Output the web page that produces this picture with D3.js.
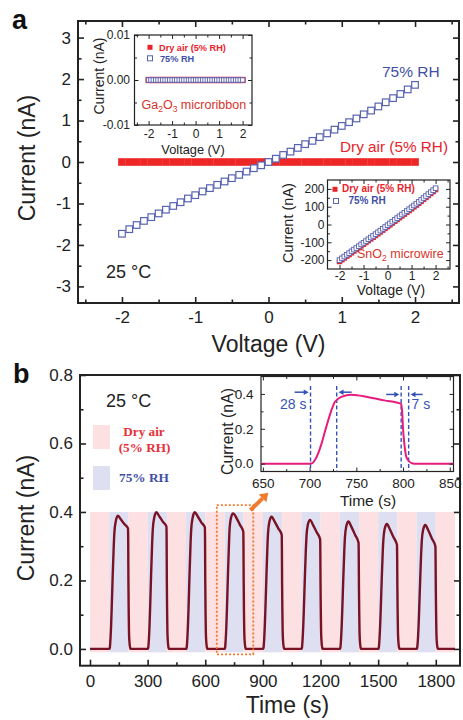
<!DOCTYPE html>
<html>
<head>
<meta charset="utf-8">
<script src="https://cdn.jsdelivr.net/npm/d3@7"></script>
<style>
  body { margin: 0; background: #fff; }
  svg { display: block; }
</style>
</head>
<body>
<svg id="fig" width="463" height="720"></svg>
<script>
// ---------- data ----------
// (a) I-V curves of the Ga2O3 microribbon device
const ivVoltage = [-2.0,-1.9,-1.8,-1.7,-1.6,-1.5,-1.4,-1.3,-1.2,-1.1,-1.0,-0.9,-0.8,-0.7,-0.6,-0.5,-0.4,-0.3,-0.2,-0.1,0.0,
                   0.1,0.2,0.3,0.4,0.5,0.6,0.7,0.8,0.9,1.0,1.1,1.2,1.3,1.4,1.5,1.6,1.7,1.8,1.9,2.0];
const ivHumid = [-1.73,-1.62,-1.52,-1.42,-1.33,-1.24,-1.15,-1.06,-0.97,-0.88,-0.80,-0.71,-0.63,-0.55,-0.47,-0.39,-0.31,-0.23,-0.15,-0.08,0.00,
                 0.08,0.17,0.25,0.34,0.43,0.51,0.60,0.69,0.78,0.87,0.96,1.05,1.15,1.24,1.34,1.44,1.54,1.64,1.75,1.86];
const ivDry = [0,0,0,0,0,0,0,0,0,0,0,0,0,0,0,0,0,0,0,0,0,
               0,0,0,0,0,0,0,0,0,0,0,0,0,0,0,0,0,0,0,0];
// inset: Ga2O3 microribbon without gold nanoparticles
const gaDry = [0,0,0,0,0,0,0,0,0,0,0,0,0,0,0,0,0,0,0,0,0,
               0,0,0,0,0,0,0,0,0,0,0,0,0,0,0,0,0,0,0,0];
const gaHumid = [0,0,0,0,0,0,0,0,0,0,0,0,0,0,0,0,0,0,0,0,0,
                 0,0,0,0,0,0,0,0,0,0,0,0,0,0,0,0,0,0,0,0];
// inset: SnO2 microwire
const snHumid = [-200,-190,-180,-170,-161,-151,-141,-132,-122,-112,-103,-93,-83,-73,-64,-54,-44,-34,-24,-14,-4,
                 6,16,26,36,46,56,66,76,86,96,107,117,127,138,149,160,171,182,193,204];
const snDry = [-208,-198,-188,-178,-169,-159,-149,-140,-130,-120,-111,-101,-91,-81,-72,-62,-52,-42,-32,-22,-12,
               -2,8,18,28,38,48,58,68,78,88,99,109,119,130,141,152,163,174,185,196];

// (b) current response while switching dry air / 75% RH every 100 s
const bandStart = [0,100,200,300,400,500,600,700,800,900,1000,1100,1200,1300,1400,1500,1600,1700,1800];
const bandGas = ["dry","humid","dry","humid","dry","humid","dry","humid","dry","humid",
                 "dry","humid","dry","humid","dry","humid","dry","humid","dry"];
const responseTime = [
  0,100,103,106,110,113,118,123.6,127,134,145,162,180,198,199,200,201.7,203,205,209,212,
  300,303,306,310,313,318,323.6,327,334,345,362,380,398,399,400,401.7,403,405,409,412,
  500,503,506,510,513,518,523.6,527,534,545,562,580,598,599,600,601.7,603,605,609,612,
  700,703,706,710,713,718,723.6,727,734,745,762,780,798,799,800,801.7,803,805,809,812,
  900,903,906,910,913,918,923.6,927,934,945,962,980,998,999,1000,1001.7,1003,1005,1009,1012,
  1100,1103,1106,1110,1113,1118,1123.6,1127,1134,1145,1162,1180,1198,1199,1200,1201.7,1203,1205,1209,1212,
  1300,1303,1306,1310,1313,1318,1323.6,1327,1334,1345,1362,1380,1398,1399,1400,1401.7,1403,1405,1409,1412,
  1500,1503,1506,1510,1513,1518,1523.6,1527,1534,1545,1562,1580,1598,1599,1600,1601.7,1603,1605,1609,1612,
  1700,1703,1706,1710,1713,1718,1723.6,1727,1734,1745,1762,1780,1798,1799,1800,1801.7,1803,1805,1809,1812,
  1900];
const responseCurrent = [
  0,0,0.003,0.023,0.07,0.119,0.21,0.30,0.34,0.372,0.389,0.377,0.364,0.352,0.31,0.2,0.1,0.05,0.023,0.003,0,
  0,0.003,0.023,0.07,0.119,0.215,0.31,0.35,0.382,0.399,0.386,0.371,0.357,0.315,0.2,0.1,0.05,0.023,0.003,0,
  0,0.003,0.023,0.07,0.119,0.215,0.31,0.35,0.382,0.399,0.386,0.369,0.355,0.313,0.2,0.1,0.05,0.023,0.003,0,
  0,0.003,0.023,0.07,0.119,0.214,0.31,0.354,0.383,0.396,0.383,0.363,0.343,0.30,0.2,0.1,0.05,0.023,0.003,0,
  0,0.003,0.022,0.068,0.115,0.205,0.30,0.34,0.372,0.386,0.371,0.352,0.333,0.29,0.19,0.1,0.05,0.023,0.003,0,
  0,0.003,0.022,0.066,0.112,0.20,0.29,0.33,0.363,0.377,0.361,0.341,0.320,0.28,0.19,0.1,0.05,0.023,0.003,0,
  0,0.003,0.021,0.065,0.11,0.197,0.285,0.325,0.358,0.372,0.355,0.333,0.310,0.27,0.18,0.1,0.05,0.023,0.003,0,
  0,0.003,0.021,0.064,0.108,0.193,0.28,0.318,0.351,0.365,0.348,0.326,0.304,0.265,0.18,0.1,0.05,0.023,0.003,0,
  0,0.003,0.021,0.063,0.107,0.19,0.277,0.315,0.348,0.362,0.345,0.322,0.299,0.26,0.18,0.1,0.05,0.023,0.003,0,
  0];
// response / recovery markers in the zoomed cycle
const markerTimes = [701, 729, 798, 806];
const responseLabels = ["28 s", "7 s"];

// tick values and labels
const aXTicks = [-2,-1,0,1,2], aXLabels = ["-2","-1","0","1","2"];
const aYTicks = [-3,-2,-1,0,1,2,3], aYLabels = ["-3","-2","-1","0","1","2","3"];
const gaYTicks = [-0.01,0,0.01], gaYLabels = ["-0.01","0.00","0.01"];
const snYTicks = [-200,-100,0,100,200], snYLabels = ["-200","-100","0","100","200"];
const bXTicks = [0,300,600,900,1200,1500,1800], bXLabels = ["0","300","600","900","1200","1500","1800"];
const bYTicks = [0,0.2,0.4,0.6,0.8], bYLabels = ["0.0","0.2","0.4","0.6","0.8"];
const zXTicks = [650,700,750,800,850], zXLabels = ["650","700","750","800","850"];
const zYTicks = [0,0.2,0.4], zYLabels = ["0.0","0.2","0.4"];

// ---------- drawing ----------
const SANS = "'Liberation Sans', Arial, sans-serif";
const SERIF = "'Liberation Serif', 'Times New Roman', serif";
const RED = "#e8232b", BLUE = "#3f4fa6", MARK = "#5863b2";
const svg = d3.select("#fig").attr("font-family", SANS);

function drawFrame(g, x, y, o) {
  const [x0, x1] = x.range(), [y0, y1] = y.range();
  g.append("rect").attr("x", x0).attr("y", y1).attr("width", x1 - x0).attr("height", y0 - y1)
    .attr("fill", o.fill || "none").attr("stroke", "#222").attr("stroke-width", o.frameW);
}

function drawAxes(g, x, y, o) {
  const [x0, x1] = x.range(), [y0, y1] = y.range();
  const style = sel => {
    sel.select(".domain").remove();
    sel.selectAll(".tick line").attr("stroke", "#222").attr("stroke-width", o.tickW);
    sel.selectAll("text").attr("font-family", SANS).attr("font-size", o.fs).attr("fill", "#222");
  };
  const sides = [
    [d3.axisBottom(x), y0, "x", true], [d3.axisLeft(y), x0, "y", true],
    [d3.axisRight(y), x1, "y", false]
  ];
  if (o.top) sides.push([d3.axisTop(x), y1, "x", false]);
  sides.forEach(([ax, pos, dim, labelled]) => {
    const tr = dim === "x" ? `translate(0,${pos})` : `translate(${pos},0)`;
    const minor = dim === "x" ? o.xMinor : o.yMinor;
    g.append("g").attr("transform", tr)
      .call(ax.scale(dim === "x" ? x : y).tickValues(minor).tickSize(-o.minor).tickFormat(""))
      .call(style);
    const major = dim === "x" ? o.xMajor : o.yMajor;
    const labels = dim === "x" ? o.xLabels : o.yLabels;
    const a = (dim === "x" ? (pos === y0 ? d3.axisBottom(x) : d3.axisTop(x))
                           : (pos === x0 ? d3.axisLeft(y) : d3.axisRight(y)))
      .tickValues(major).tickSize(-o.major)
      .tickPadding(dim === "x" ? o.xPad : o.yPad)
      .tickFormat(labelled ? ((d, i) => labels[i]) : "");
    g.append("g").attr("transform", tr).call(a).call(style);
  });
}

function rotLabel(g, text, x, y, fs) {
  g.append("text").attr("transform", `translate(${x},${y}) rotate(-90)`)
    .attr("text-anchor", "middle").attr("font-size", fs).attr("fill", "#222").text(text);
}

function squares(g, xs, ys, x, y, size, fill, stroke, sw) {
  g.selectAll(null).data(xs.map((v, i) => [v, ys[i]])).join("rect")
    .attr("x", d => x(d[0]) - size / 2).attr("y", d => y(d[1]) - size / 2)
    .attr("width", size).attr("height", size)
    .attr("fill", fill).attr("stroke", stroke).attr("stroke-width", sw);
}

// ===== panel a =====
const ga = svg.append("g");
const ax = d3.scaleLinear().domain([-2.6, 2.6]).range([78, 459]);
const ay = d3.scaleLinear().domain([-3.4, 3.4]).range([303, 21]);
drawFrame(ga, ax, ay, { frameW: 2 });
drawAxes(ga, ax, ay, {
  xMajor: aXTicks, xLabels: aXLabels, xMinor: [-2.5,-1.5,-0.5,0.5,1.5,2.5],
  yMajor: aYTicks, yLabels: aYLabels, yMinor: [-2.5,-1.5,-0.5,0.5,1.5,2.5],
  major: 6, minor: 3.5, tickW: 1.6, fs: 17, xPad: 8, yPad: 7, top: true
});
squares(ga, ivVoltage, ivDry, ax, ay, 7.6, "#ee2626", "none", 0);
squares(ga, ivVoltage, ivHumid, ax, ay, 6.6, "#fff", MARK, 1.2);
ga.append("text").attr("x", 382).attr("y", 77).attr("font-size", 15.5).attr("fill", BLUE).text("75% RH");
ga.append("text").attr("x", 448).attr("y", 152).attr("text-anchor", "end").attr("font-size", 15.3).attr("fill", RED).text("Dry air (5% RH)");
ga.append("text").attr("x", 106).attr("y", 278).attr("font-size", 18).attr("fill", "#222").text("25 °C");
ga.append("text").attr("x", 268.5).attr("y", 352).attr("text-anchor", "middle").attr("font-size", 23).attr("fill", "#222").text("Voltage (V)");
rotLabel(ga, "Current (nA)", 35, 158, 23);
ga.append("text").attr("x", 12).attr("y", 29).attr("font-size", 27).attr("font-weight", "bold").attr("fill", "#111").text("a");

// inset: Ga2O3 microribbon
const g1 = svg.append("g");
const gx = d3.scaleLinear().domain([-2.6, 2.4]).range([134.5, 252]);
const gy = d3.scaleLinear().domain([-0.01, 0.01]).range([125, 35]);
drawFrame(g1, gx, gy, { frameW: 1.2, fill: "#fff" });
drawAxes(g1, gx, gy, {
  xMajor: aXTicks, xLabels: aXLabels, xMinor: [-2.5,-1.5,-0.5,0.5,1.5],
  yMajor: gaYTicks, yLabels: gaYLabels, yMinor: [-0.005, 0.005],
  major: 4, minor: 2.5, tickW: 1, fs: 12, xPad: 4.5, yPad: 4.5, top: true
});
squares(g1, ivVoltage, gaDry, gx, gy, 6.2, RED, "none", 0);
squares(g1, ivVoltage, gaHumid, gx, gy, 4.4, "#fff", MARK, 0.9);
g1.append("rect").attr("x", 147.5).attr("y", 44.8).attr("width", 5).attr("height", 5).attr("fill", RED);
g1.append("rect").attr("x", 147.5).attr("y", 55.8).attr("width", 5).attr("height", 5).attr("fill", "#fff").attr("stroke", MARK).attr("stroke-width", 1);
g1.append("text").attr("x", 159).attr("y", 50.5).attr("font-size", 9.2).attr("font-weight", "bold").attr("fill", RED).text("Dry air (5% RH)");
g1.append("text").attr("x", 160).attr("y", 61.5).attr("font-size", 9.2).attr("font-weight", "bold").attr("fill", BLUE).text("75% RH");
const gaName = g1.append("text").attr("x", 141.5).attr("y", 108.5).attr("font-size", 12.5).attr("fill", "#d8342c");
gaName.append("tspan").text("Ga");
gaName.append("tspan").attr("font-size", 8.5).attr("dy", 3).text("2");
gaName.append("tspan").attr("dy", -3).text("O");
gaName.append("tspan").attr("font-size", 8.5).attr("dy", 3).text("3");
gaName.append("tspan").attr("dy", -3).text(" microribbon");
g1.append("text").attr("x", 193).attr("y", 154).attr("text-anchor", "middle").attr("font-size", 12.8).attr("fill", "#222").text("Voltage (V)");
rotLabel(g1, "Current (nA)", 104, 76, 14);

// inset: SnO2 microwire
const g2 = svg.append("g");
const sx = d3.scaleLinear().domain([-2.5, 2.6]).range([327.5, 450]);
const sy = d3.scaleLinear().domain([-250, 250]).range([269, 180]);
drawFrame(g2, sx, sy, { frameW: 1.2, fill: "#fff" });
drawAxes(g2, sx, sy, {
  xMajor: aXTicks, xLabels: aXLabels, xMinor: [-1.5,-0.5,0.5,1.5,2.5],
  yMajor: snYTicks, yLabels: snYLabels, yMinor: [-150,-50,50,150],
  major: 4, minor: 2.5, tickW: 1, fs: 12, xPad: 2.5, yPad: 3, top: true
});
squares(g2, ivVoltage, snDry, sx, sy, 5.4, RED, "none", 0);
squares(g2, ivVoltage, snHumid, sx, sy, 4.6, "#fff", MARK, 0.9);
g2.append("rect").attr("x", 332.5).attr("y", 186.8).attr("width", 5).attr("height", 5).attr("fill", RED);
g2.append("rect").attr("x", 333.5).attr("y", 198.5).attr("width", 5).attr("height", 5).attr("fill", "#fff").attr("stroke", MARK).attr("stroke-width", 1);
g2.append("text").attr("x", 342).attr("y", 192.3).attr("font-size", 10).attr("font-weight", "bold").attr("fill", RED).text("Dry air (5% RH)");
g2.append("text").attr("x", 348.5).attr("y", 204.2).attr("font-size", 10).attr("font-weight", "bold").attr("fill", BLUE).text("75% RH");
const snName = g2.append("text").attr("x", 357).attr("y", 258).attr("font-size", 12.5).attr("fill", "#d8342c");
snName.append("tspan").text("SnO");
snName.append("tspan").attr("font-size", 8.5).attr("dy", 3).text("2");
snName.append("tspan").attr("dy", -3).text(" microwire");
g2.append("text").attr("x", 391).attr("y", 294.5).attr("text-anchor", "middle").attr("font-size", 13.8).attr("fill", "#222").text("Voltage (V)");
rotLabel(g2, "Current (nA)", 293, 223, 14.5);

// ===== panel b =====
const gb = svg.append("g");
const bx = d3.scaleLinear().domain([-52, 1926]).range([80, 460]);
const by = d3.scaleLinear().domain([-0.049, 0.8]).range([665.7, 375]);
const bandColor = { dry: "#fde0e1", humid: "#dedff0" };
gb.selectAll(null).data(bandStart.map((s, i) => ({ s, gas: bandGas[i] }))).join("rect")
  .attr("x", d => bx(d.s)).attr("width", d => bx(d.s + 100) - bx(d.s))
  .attr("y", by(0.4)).attr("height", by(-0.01) - by(0.4))
  .attr("fill", d => bandColor[d.gas]);
const series = responseTime.map((t, i) => [t, responseCurrent[i]]);
gb.append("path").datum(series)
  .attr("d", d3.line().x(d => bx(d[0])).y(d => by(d[1])).curve(d3.curveMonotoneX))
  .attr("fill", "none").attr("stroke", "#7a1225").attr("stroke-width", 2.4).attr("stroke-linejoin", "round");
drawFrame(gb, bx, by, { frameW: 2 });
drawAxes(gb, bx, by, {
  xMajor: bXTicks, xLabels: bXLabels, xMinor: [150,450,750,1050,1350,1650],
  yMajor: bYTicks, yLabels: bYLabels, yMinor: [0.1,0.3,0.5,0.7],
  major: 6, minor: 3.5, tickW: 1.6, fs: 17, xPad: 9, yPad: 7, top: false
});
// highlighted cycle and pointer to the zoomed view
const ORANGE = "#f07a2e";
gb.append("rect").attr("x", bx(660)).attr("y", by(0.42)).attr("width", bx(850) - bx(660)).attr("height", by(-0.016) - by(0.42))
  .attr("fill", "none").attr("stroke", ORANGE).attr("stroke-width", 1.8).attr("stroke-dasharray", "2,2");
{
  const p0 = [bx(835), by(0.405)], p1 = [bx(928), by(0.456)];
  const ang = Math.atan2(p1[1] - p0[1], p1[0] - p0[0]);
  const L = 8, W = 5.5;
  const base = [p1[0] - L * Math.cos(ang), p1[1] - L * Math.sin(ang)];
  gb.append("line").attr("x1", p0[0]).attr("y1", p0[1]).attr("x2", base[0]).attr("y2", base[1])
    .attr("stroke", ORANGE).attr("stroke-width", 4);
  gb.append("polygon").attr("fill", ORANGE).attr("points", [
    p1, [base[0] - W * Math.sin(ang), base[1] + W * Math.cos(ang)], [base[0] + W * Math.sin(ang), base[1] - W * Math.cos(ang)]
  ].map(p => p.join(",")).join(" "));
}
// legend
gb.append("rect").attr("x", 93).attr("y", 425).attr("width", 17).attr("height", 24).attr("fill", bandColor.dry);
gb.append("rect").attr("x", 93).attr("y", 466).attr("width", 17).attr("height", 24).attr("fill", bandColor.humid);
gb.append("text").attr("x", 144).attr("y", 436).attr("text-anchor", "middle").attr("font-family", SERIF).attr("font-weight", "bold").attr("font-size", 13.2).attr("fill", "#e8303a").text("Dry air");
gb.append("text").attr("x", 144.5).attr("y", 451.7).attr("text-anchor", "middle").attr("font-family", SERIF).attr("font-weight", "bold").attr("font-size", 13.2).attr("fill", "#e8303a").text("(5% RH)");
gb.append("text").attr("x", 119).attr("y", 482.3).attr("font-family", SERIF).attr("font-weight", "bold").attr("font-size", 13.3).attr("fill", BLUE).text("75% RH");
gb.append("text").attr("x", 106).attr("y", 406.7).attr("font-size", 18).attr("fill", "#222").text("25 °C");
gb.append("text").attr("x", 287.5).attr("y", 713).attr("text-anchor", "middle").attr("font-size", 23).attr("fill", "#222").text("Time (s)");
rotLabel(gb, "Current (nA)", 34, 518, 23);
gb.append("text").attr("x", 13).attr("y", 383).attr("font-size", 27).attr("font-weight", "bold").attr("fill", "#111").text("b");

// inset: one cycle, 650-850 s
const gz = svg.append("g");
const zx = d3.scaleLinear().domain([648, 854]).range([261, 453.5]);
const zy = d3.scaleLinear().domain([-0.045, 0.5]).range([471.5, 376.5]);
drawFrame(gz, zx, zy, { frameW: 1.2, fill: "#fff" });
gz.append("clipPath").attr("id", "zclip").append("rect")
  .attr("x", 261).attr("y", 376.5).attr("width", 192.5).attr("height", 95);
const DASH = "#3553b4";
gz.selectAll(null).data(markerTimes).join("line")
  .attr("x1", d => zx(d)).attr("x2", d => zx(d)).attr("y1", zy(0.445)).attr("y2", zy(-0.045))
  .attr("stroke", DASH).attr("stroke-width", 1.4).attr("stroke-dasharray", "4,2.5");
gz.append("path").datum(series)
  .attr("clip-path", "url(#zclip)")
  .attr("d", d3.line().x(d => zx(d[0])).y(d => zy(d[1])).curve(d3.curveMonotoneX))
  .attr("fill", "none").attr("stroke", "#e81c7c").attr("stroke-width", 2);
drawAxes(gz, zx, zy, {
  xMajor: zXTicks, xLabels: zXLabels, xMinor: [675,725,775,825],
  yMajor: zYTicks, yLabels: zYLabels, yMinor: [0.1,0.3],
  major: 4, minor: 2.5, tickW: 1, fs: 13.5, xPad: 7, yPad: 7.5, top: true
});
// response-time arrows
const arrows = [[684, 699, 0.41], [745, 731, 0.41], [782, 796, 0.397], [821, 808, 0.397]];
arrows.forEach(([t0, t1, v]) => {
  const dir = Math.sign(t1 - t0), X1 = zx(t1), Y = zy(v);
  gz.append("line").attr("x1", zx(t0)).attr("x2", X1 - dir * 4).attr("y1", Y).attr("y2", Y)
    .attr("stroke", DASH).attr("stroke-width", 1.5);
  gz.append("polygon").attr("fill", DASH)
    .attr("points", `${X1},${Y} ${X1 - dir * 5},${Y - 2.8} ${X1 - dir * 5},${Y + 2.8}`);
});
gz.append("text").attr("x", 280).attr("y", 408.5).attr("font-size", 14).attr("fill", DASH).text(responseLabels[0]);
gz.append("text").attr("x", 411.5).attr("y", 408.5).attr("font-size", 14).attr("fill", DASH).text(responseLabels[1]);
gz.append("text").attr("x", 368).attr("y", 505.5).attr("text-anchor", "middle").attr("font-size", 15.5).attr("fill", "#222").text("Time (s)");
rotLabel(gz, "Current (nA)", 233, 431.5, 15.8);
</script>
</body>
</html>
